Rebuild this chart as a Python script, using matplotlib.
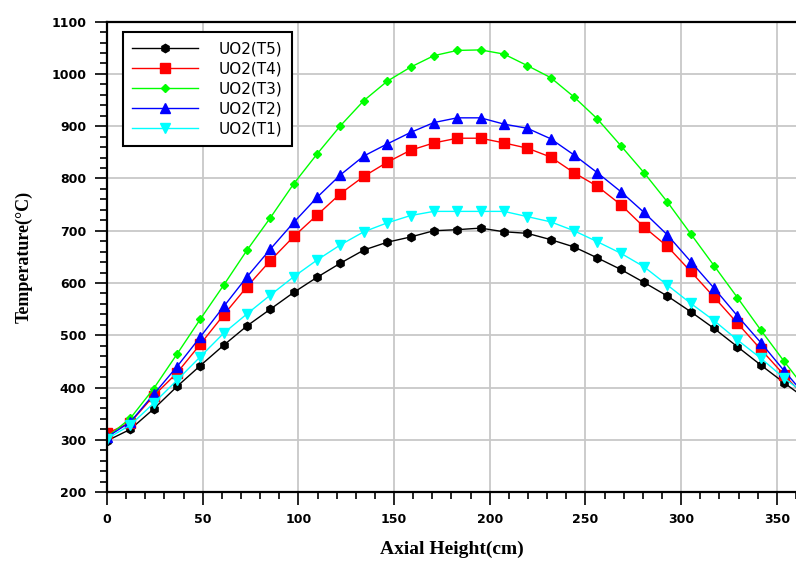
import matplotlib
matplotlib.use('Agg')
import matplotlib.pyplot as plt
from matplotlib.ticker import MultipleLocator

# axial positions (cm) of the computed points
axial_height = [0, 12.2, 24.4, 36.6, 48.8, 61.0, 73.2, 85.4, 97.6, 109.8,
                122.0, 134.2, 146.4, 158.6, 170.8, 183.0, 195.2, 207.4, 219.6, 231.8,
                244.0, 256.2, 268.4, 280.6, 292.8, 305.0, 317.2, 329.4, 341.6, 353.8, 366.0]

# temperatures (C)
uo2_t5 = [298, 320, 359, 402, 442, 481, 518, 550, 582, 611,
          638, 663, 678, 688, 700, 702, 705, 698, 695, 683,
          669, 648, 626, 601, 575, 545, 513, 478, 443, 409, 376]
uo2_t4 = [312, 333, 384, 428, 483, 539, 593, 643, 689, 730,
          771, 804, 831, 854, 868, 877, 877, 868, 858, 841,
          811, 785, 750, 707, 670, 622, 573, 523, 473, 424, 377]
uo2_t3 = [305, 341, 398, 464, 531, 596, 663, 725, 790, 847,
          901, 949, 986, 1013, 1035, 1045, 1046, 1038, 1016, 993,
          956, 914, 863, 811, 755, 694, 633, 572, 510, 450, 392]
uo2_t2 = [305, 334, 387, 440, 497, 555, 612, 665, 716, 764,
          807, 843, 866, 888, 907, 916, 916, 904, 896, 876,
          845, 811, 775, 735, 692, 641, 590, 537, 486, 432, 380]
uo2_t1 = [302, 328, 370, 414, 459, 504, 541, 577, 612, 644,
          673, 698, 715, 729, 737, 737, 737, 737, 727, 717,
          700, 679, 657, 631, 596, 561, 528, 491, 456, 418, 384]

series = [
    ('UO2(T5)', uo2_t5, 'black', 'h', 6),
    ('UO2(T4)', uo2_t4, 'red', 's', 6.5),
    ('UO2(T3)', uo2_t3, '#00ff00', 'D', 4.5),
    ('UO2(T2)', uo2_t2, 'blue', '^', 6.5),
    ('UO2(T1)', uo2_t1, 'cyan', 'v', 6.5),
]

fig = plt.figure(figsize=(7.96, 5.66), dpi=100)
ax = fig.add_axes([0.1344, 0.1307, 0.8656, 0.831])

for label, vals, color, marker, ms in series:
    ax.plot(axial_height, vals, color=color, marker=marker, markersize=ms,
            linewidth=1.0, label=label)

ax.set_xlim(0, 360)
ax.set_ylim(200, 1100)
ax.xaxis.set_major_locator(MultipleLocator(50))
ax.xaxis.set_minor_locator(MultipleLocator(10))
ax.yaxis.set_major_locator(MultipleLocator(100))
ax.yaxis.set_minor_locator(MultipleLocator(20))

ax.grid(True, which='major', color='#c8c8c8', linewidth=1.3)
ax.set_axisbelow(True)

ax.spines['right'].set_visible(False)
for side in ['left', 'bottom', 'top']:
    ax.spines[side].set_linewidth(1.6)

ax.tick_params(which='major', direction='out', length=9, width=1.2, labelsize=9, pad=6)
ax.tick_params(which='minor', direction='out', length=5, width=1.2)
for lbl in ax.get_xticklabels() + ax.get_yticklabels():
    lbl.set_fontweight('bold')

ax.set_xlabel('Axial Height(cm)', family='Liberation Serif', fontweight='bold',
              fontsize=14, labelpad=11)
ax.set_ylabel('Temperature(°C)', family='Liberation Serif', fontweight='bold',
              fontsize=13, labelpad=13)

leg = ax.legend(loc='upper left', bbox_to_anchor=(0.023, 0.978), borderaxespad=0,
                fontsize=11, handlelength=4.3, handletextpad=1.4, labelspacing=0.33,
                borderpad=0.6, fancybox=False, framealpha=1, edgecolor='black')
leg.get_frame().set_linewidth(1.5)

fig.savefig('out.png', dpi=100)
